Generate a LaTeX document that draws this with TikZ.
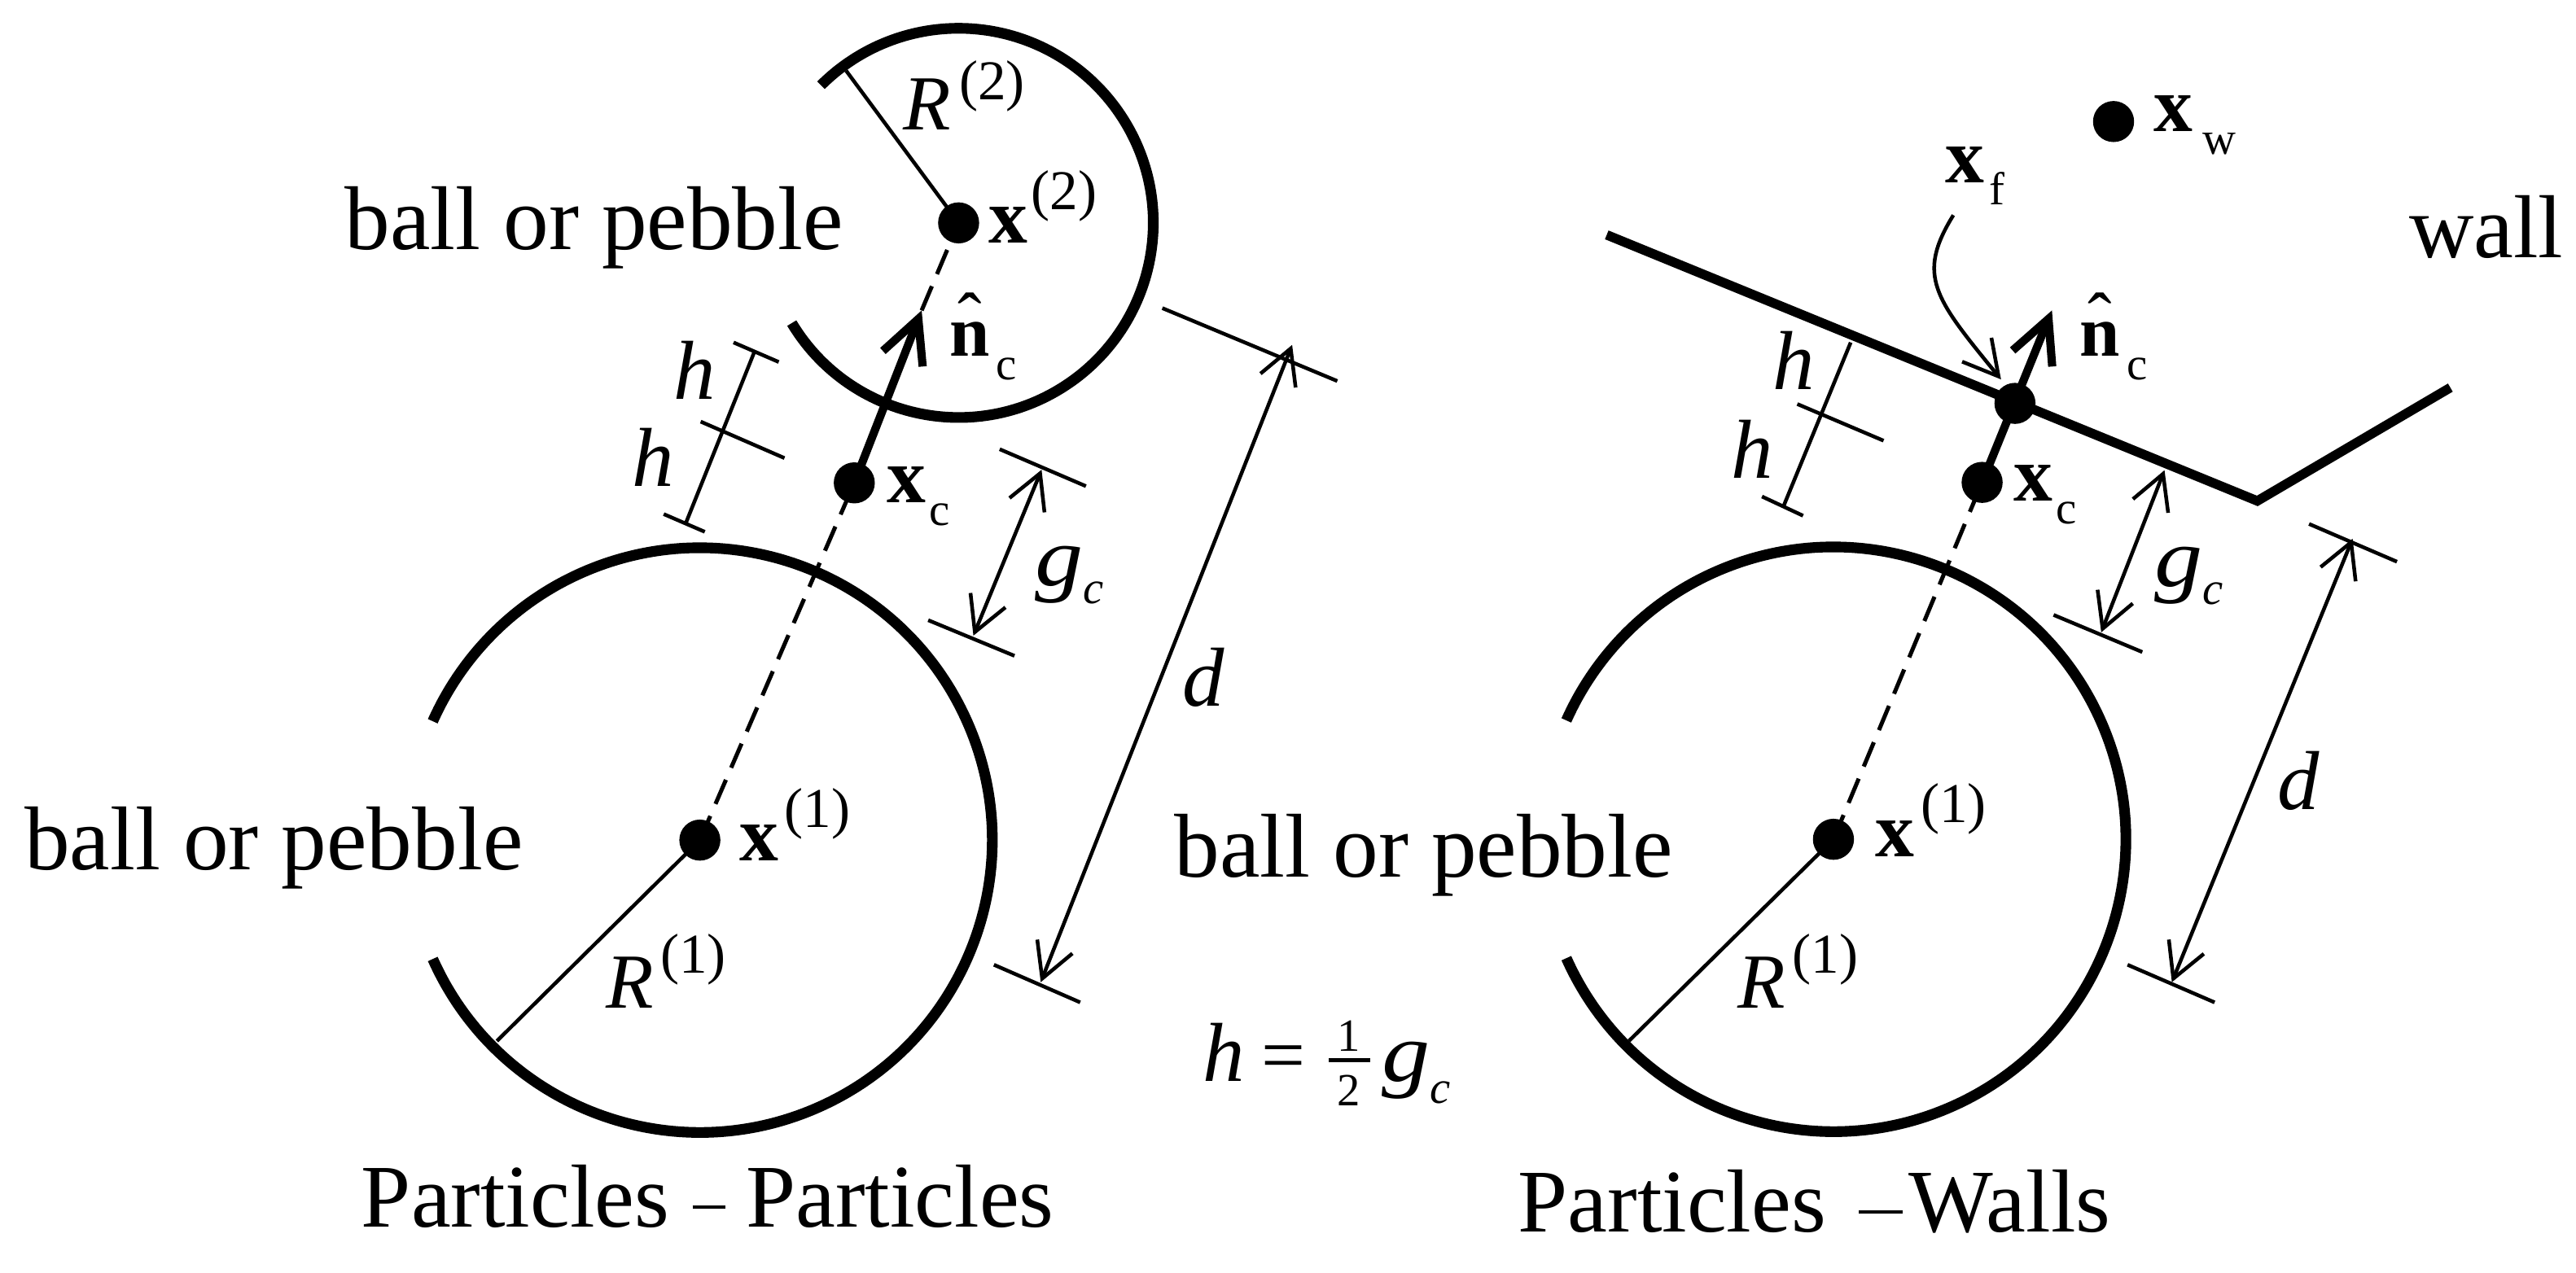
\documentclass[tikz,border=0pt]{standalone}
\usepackage{fontspec}
\setmainfont{Liberation Serif}
\usetikzlibrary{arrows.meta,calc}
\newcommand{\fxb}{\fontsize{27}{27}\selectfont\bfseries}
\newcommand{\fnb}{\fontsize{25}{25}\selectfont\bfseries}
\newcommand{\fsm}{\fontsize{19.5}{19.5}\selectfont}
\newcommand{\fsb}{\fontsize{16}{16}\selectfont}
\newcommand{\ffr}{\fontsize{16}{16}\selectfont}
\newcommand{\fit}{\fontsize{29}{29}\selectfont\itshape}
\newcommand{\fr}{\fontsize{27}{27}\selectfont\itshape}
\newcommand{\ft}{\fontsize{31.4}{31.4}\selectfont}
\newcommand{\fcap}{\fontsize{31}{31}\selectfont}
\newcommand{\supx}[3]{\kern#3\raisebox{#1}{\fsm(#2)}}
\newcommand{\subl}[3]{\kern#3\raisebox{-#1}{\fsb #2}}
\newcommand{\gsym}{\scalebox{1.15}[1]{\fit g}}
\newcommand{\nhat}{\makebox[0pt][l]{\kern0.1cm\raisebox{0.16cm}{\fontsize{25}{25}\selectfont\char"02C6}}{\fnb n}}
\newcommand{\capdash}[3]{\kern#1\rule[0.22cm]{#2}{0.045cm}\kern#3}
\tikzset{
  lbl/.style={anchor=base west,inner sep=0pt,outer sep=0pt,text=black},
  ptdot/.style={circle,fill=black,draw=none,minimum size=0.5cm,inner sep=0pt},
  ballarc/.style={line width=0.13cm,black},
  thinln/.style={line width=0.045cm,black},
  dimln/.style={thinln,{Straight Barb[length=0.42cm,width=0.46cm]}-{Straight Barb[length=0.42cm,width=0.46cm]}},
  dimend/.style={thinln,-{Straight Barb[length=0.42cm,width=0.46cm]}},
  dashln/.style={line width=0.05cm,black,dash pattern=on 0.32cm off 0.16cm},
  thickarr/.style={line width=0.1cm,black,-{Straight Barb[length=0.52cm,width=0.52cm]}},
  wallln/.style={line width=0.115cm,black,line join=miter},
}
\begin{document}
\begin{tikzpicture}[x=0.02cm,y=-0.02cm]
\useasboundingbox (0,0) rectangle (1568,774.6);

% ---- centres and anchors, left figure
\node[ptdot] (c1) at (426,511.5) {};
\node[ptdot] (c2) at (583.5,135.7) {};
\node[ptdot] (xc) at (520,294) {};
\coordinate (arrL) at (561,189);
\coordinate (r1L) at (302.5,633.8);
\coordinate (r2L) at (515,43);

\draw[ballarc] ($(c1)+(204:3.56cm)$) arc[start angle=204,end angle=516,radius=3.56cm];
\draw[ballarc] ($(c2)+(211:2.37cm)$) arc[start angle=211,end angle=495,radius=2.37cm];

\draw[dashln] (c1.center) -- (xc.center);
\draw[dashln] (arrL) -- (c2.center);
\draw[thickarr] (xc.center) -- (arrL);
\draw[thinln] (c1.center) -- (r1L);
\draw[thinln] (c2.center) -- (r2L);

% h dimension left
\coordinate (ha1) at (446.5,208.5); \coordinate (ha2) at (474,220.4);
\coordinate (hb1) at (426.5,256.7); \coordinate (hb2) at (477.5,278.9);
\coordinate (hc1) at (404,313);     \coordinate (hc2) at (429,323.8);
\coordinate (hl1) at (459,214.7);   \coordinate (hl2) at (417.5,318.4);
\draw[thinln] (ha1) -- (ha2);
\draw[thinln] (hb1) -- (hb2);
\draw[thinln] (hc1) -- (hc2);
\draw[thinln] (hl1) -- (hl2);

% g_c dimension left
\coordinate (ga1) at (608.5,273.5); \coordinate (ga2) at (661,296);
\coordinate (gb1) at (565,377.6);   \coordinate (gb2) at (617.5,399.3);
\coordinate (gl1) at (634,286);     \coordinate (gl2) at (592.5,387);
\draw[thinln] (ga1) -- (ga2);
\draw[thinln] (gb1) -- (gb2);
\draw[dimln] (gl1) -- (gl2);

% d dimension left
\coordinate (da1) at (707.5,187.6); \coordinate (da2) at (814,232);
\coordinate (db1) at (605,587.4);   \coordinate (db2) at (657.5,610.3);
\coordinate (dl1) at (786.5,210);   \coordinate (dl2) at (633.5,598);
\draw[thinln] (da1) -- (da2);
\draw[thinln] (db1) -- (db2);
\draw[dimln] (dl1) -- (dl2);

% ---- right figure
\node[ptdot] (c3) at (1116,511) {};
\node[ptdot] (xc2) at (1206.5,293.7) {};
\node[ptdot] (xf) at (1226.5,245.6) {};
\node[ptdot] (xw) at (1286.5,74) {};
\coordinate (arrR) at (1249,189);
\coordinate (r3L) at (991.5,633.8);
\coordinate (wa) at (978,143);
\coordinate (wb) at (1374,305);
\coordinate (wc) at (1491.5,236);

\draw[ballarc] ($(c3)+(204:3.56cm)$) arc[start angle=204,end angle=516,radius=3.56cm];
\draw[wallln] (wa) -- (wb) -- (wc);
\draw[dashln] (c3.center) -- (xc2.center);
\draw[thickarr] (xc2.center) -- (arrR);
\draw[thinln] (c3.center) -- (r3L);

\coordinate (fa) at (1189,131);
\coordinate (fb) at (1218,231);
\draw[dimend] (fa) .. controls (1166,168) and (1178,182) .. (fb);

\coordinate (hra) at (1126.5,208.5); \coordinate (hrb) at (1085.5,308.5);
\coordinate (hm1) at (1094,246);     \coordinate (hm2) at (1146.5,268.3);
\coordinate (he1) at (1072.5,302.3); \coordinate (he2) at (1097.5,314);
\draw[thinln] (hra) -- (hrb);
\draw[thinln] (hm1) -- (hm2);
\draw[thinln] (he1) -- (he2);

\coordinate (grt) at (1317.5,286.3); \coordinate (grb) at (1279,385);
\coordinate (gt1) at (1250,374.4);   \coordinate (gt2) at (1304,397);
\draw[thinln] (gt1) -- (gt2);
\draw[dimln] (grt) -- (grb);

\coordinate (dt1) at (1405.5,319);   \coordinate (dt2) at (1459,342);
\coordinate (dt3) at (1295,587.4);   \coordinate (dt4) at (1348,610.3);
\coordinate (drt) at (1432,328);     \coordinate (drb) at (1322,598);
\draw[thinln] (dt1) -- (dt2);
\draw[thinln] (dt3) -- (dt4);
\draw[dimln] (drt) -- (drb);

% ---- texts, left
\node[lbl] (tb1) at (210,152) {\ft ball or pebble};
\node[lbl] (tb2) at (15,529.6) {\ft ball or pebble};
\node[lbl] (tb3) at (715,534) {\ft ball or pebble};
\node[lbl] (lx2) at (602,148) {{\fxb x}\supx{0.41cm}{2}{0.04cm}};
\node[lbl] (lx1) at (450,524) {{\fxb x}\supx{0.41cm}{1}{0.08cm}};
\node[lbl] (lR2) at (550,79) {{\fr R}\supx{0.37cm}{2}{0.1cm}};
\node[lbl] (lR1) at (369,613.6) {{\fr R}\supx{0.42cm}{1}{0.08cm}};
\node[lbl] (ln1) at (578,217) {\nhat\subl{0.28cm}{c}{0.08cm}};
\node[lbl] (lxc) at (540,306) {{\fxb x}\subl{0.28cm}{c}{0.04cm}};
\node[lbl] (lh1) at (410,243) {\fit h};
\node[lbl] (lh2) at (385,296) {\fit h};
\node[lbl] (lg1) at (630,356.6) {\gsym\raisebox{-0.22cm}{\fsb\itshape c}};
\node[lbl] (ld1) at (720,430) {\fit d};

% h = 1/2 g_c
\node[lbl] (eqh) at (732,658.5) {\fit h};
\node[lbl] (eqs) at (768,658.5) {\fontsize{27}{27}\selectfont =};
\node[lbl,anchor=base] (one) at (821,640) {\ffr 1};
\node[lbl,anchor=base] (two) at (821,673) {\ffr 2};
\coordinate (fr1) at (809,645.6); \coordinate (fr2) at (834,645.6);
\draw[line width=0.05cm,black] (fr1) -- (fr2);
\node[lbl] (lg3) at (841,658.5) {\gsym\raisebox{-0.26cm}{\fsb\itshape c}};

\node[lbl] (cap1) at (220,747) {\fcap Particles\capdash{0.28cm}{0.4cm}{0.25cm}Particles};
\node[lbl] (cap2) at (924,750) {\fcap Particles\capdash{0.4cm}{0.53cm}{0.08cm}Walls};

% ---- texts, right
\node[lbl] (rx1) at (1141.5,521.5) {{\fxb x}\supx{0.41cm}{1}{0.08cm}};
\node[lbl] (rR1) at (1058,613.6) {{\fr R}\supx{0.42cm}{1}{0.08cm}};
\node[lbl] (rn) at (1266,217) {\nhat\subl{0.28cm}{c}{0.08cm}};
\node[lbl] (rxc) at (1226,305) {{\fxb x}\subl{0.28cm}{c}{0.04cm}};
\node[lbl] (rxw) at (1311,80) {{\fxb x}\subl{0.28cm}{w}{0.12cm}};
\node[lbl] (rxf) at (1184,111.5) {{\fxb x}\subl{0.26cm}{f}{0.06cm}};
\node[lbl] (rwall) at (1466.5,157) {\fcap wall};
\node[lbl] (rh1) at (1079,237) {\fit h};
\node[lbl] (rh2) at (1054,291) {\fit h};
\node[lbl] (rg) at (1311.5,357) {\gsym\raisebox{-0.22cm}{\fsb\itshape c}};
\node[lbl] (rd) at (1386.5,493) {\fit d};
\end{tikzpicture}
\end{document}
